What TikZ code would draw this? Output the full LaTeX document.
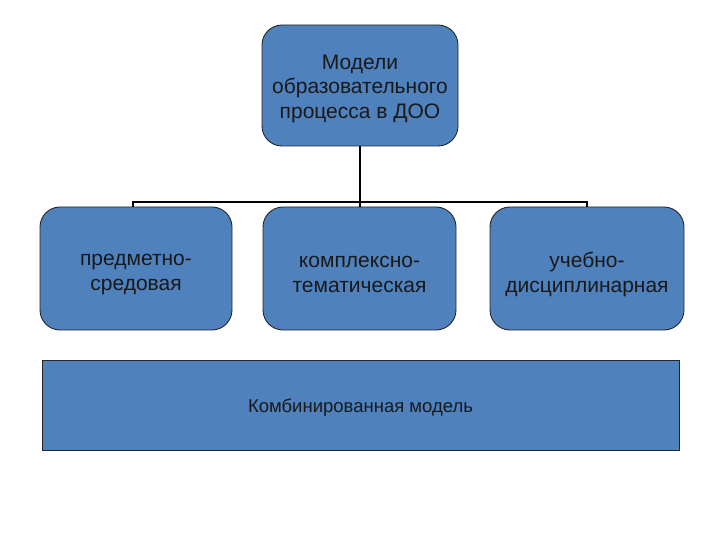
\documentclass[tikz,border=0pt]{standalone}
\usepackage{fontspec}
\setmainfont{Liberation Sans}
\definecolor{boxblue}{HTML}{4F81BD}
\begin{document}
\begin{tikzpicture}[x=1pt,y=-1pt,
  rbox/.style={draw=black!85, line width=0.9pt, fill=boxblue, rounded corners=20pt, inner sep=0pt},
  txt/.style={align=center, font=\fontsize{21}{24.5}\selectfont, text=black!90, inner sep=0pt},
  conn/.style={line width=1.8pt, draw=black}]
\useasboundingbox (0,0) rectangle (720,540);
\node[rbox, minimum width=196pt, minimum height=121pt] (top) at (360,85.5) {};
\node[txt] (topt) at ([yshift=-3pt]top.center) {Модели\\образовательного\\ процесса в ДОО};
\node[rbox, minimum width=192pt, minimum height=123pt] (b1) at (136,268.5) {};
\node[txt] (b1t) at ([yshift=-6pt]b1.center) {предметно-\\средовая};
\node[rbox, minimum width=193pt, minimum height=123pt] (b2) at (359.5,268.5) {};
\node[txt] (b2t) at ([yshift=-6pt]b2.center) {комплексно-\\тематическая};
\node[rbox, minimum width=194pt, minimum height=123pt] (b3) at (587,268.5) {};
\node[txt] (b3t) at ([yshift=-6pt]b3.center) {учебно-\\дисциплинарная};
\node[draw=black!85, line width=0.9pt, fill=boxblue, minimum width=637pt, minimum height=90pt, inner sep=0pt] (comb) at (360.5,405) {};
\node[txt, font=\fontsize{18.5}{22}\selectfont] (combt) at ([yshift=-3pt]comb.center) {Комбинированная модель};
\coordinate (hub) at (360,202);
\draw[conn] (top.south) -- (hub);
\draw[conn] (b1.north -| 133,0) -- (133,202) -- (587,202) -- (b3.north);
\draw[conn] (hub) -- (b2.north -| hub);
\end{tikzpicture}
\end{document}
